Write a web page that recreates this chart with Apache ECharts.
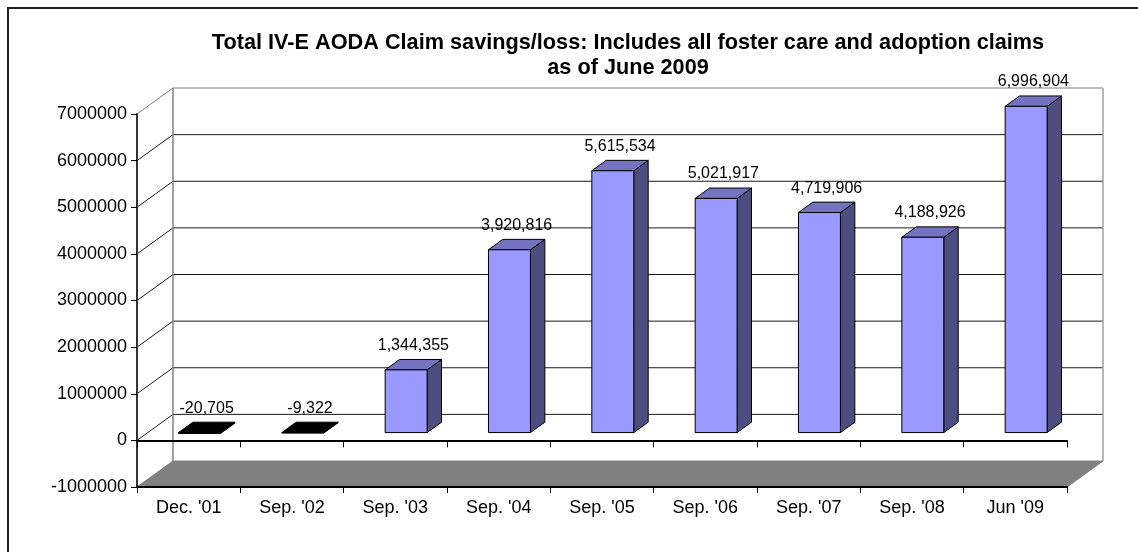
<!DOCTYPE html>
<html><head><meta charset="utf-8">
<script src="https://cdn.jsdelivr.net/npm/echarts@6/dist/echarts.min.js"></script>
<style>html,body{margin:0;padding:0;background:#fff}#c{width:1138px;height:552px}</style>
</head><body><div id="c"></div>
<script>
// ---- data ----
const categories = ["Dec. '01", "Sep. '02", "Sep. '03", "Sep. '04", "Sep. '05", "Sep. '06", "Sep. '07", "Sep. '08", "Jun '09"];
const claimValues = [-20705, -9322, 1344355, 3920816, 5615534, 5021917, 4719906, 4188926, 6996904];
const yTickValues = [-1000000, 0, 1000000, 2000000, 3000000, 4000000, 5000000, 6000000, 7000000];
const titleLines = ['Total IV-E AODA Claim savings/loss: Includes all foster care and adoption claims', 'as of June 2009'];

// ---- style ----
const FONT = "'Liberation Sans', Arial, Helvetica, sans-serif";
const DX = 36, DY = -26;               // 3D depth offset of the back wall
const BAR_FRONT = 0.3, BAR_DEPTH = 0.4, BAR_WIDTH = 0.406;
const LABEL_GAP = 14;
const yMin = yTickValues[0], yMax = yTickValues[yTickValues.length - 1];

function fmt(v) {
  const s = Math.abs(v).toString().replace(/\B(?=(\d{3})+(?!\d))/g, ',');
  return (v < 0 ? '-' : '') + s;
}

function renderWall(params, api) {
  const v = api.value(1);
  const cs = params.coordSys;
  const x0 = cs.x, x1 = cs.x + cs.width;
  const yBottom = cs.y + cs.height;
  const y = api.coord([0, v])[1];
  const children = [];
  if (v === yMin) {
    children.push({ type: 'polygon', shape: { points: [[x0, y], [x1, y], [x1 + DX, y + DY], [x0 + DX, y + DY]] },
      style: { fill: '#808080', stroke: '#808080', lineWidth: 1 } });
  } else {
    const col = v === yMax ? '#808080' : '#1a1a1a';
    children.push({ type: 'polyline', shape: { points: [[x0, y], [x0 + DX, y + DY], [x1 + DX, y + DY]] },
      style: { stroke: col, lineWidth: 1, fill: null } });
  }
  if (v === yMax) {
    children.push({ type: 'line', shape: { x1: x0 + DX, y1: y + DY, x2: x0 + DX, y2: yBottom + DY }, style: { stroke: '#808080', lineWidth: 1.5 } });
    children.push({ type: 'line', shape: { x1: x1 + DX, y1: y + DY, x2: x1 + DX, y2: yBottom + DY }, style: { stroke: '#a0a0a0', lineWidth: 1.5 } });
  }
  return { type: 'group', children: children };
}

function renderBar(params, api) {
  const i = api.value(0), v = api.value(1);
  const base = api.coord([i, 0]);
  const top = api.coord([i, v]);
  const cw = api.size([1, 0])[0];
  const bw = cw * BAR_WIDTH;
  const ox = DX * BAR_FRONT, oy = DY * BAR_FRONT, dx = DX * BAR_DEPTH, dy = DY * BAR_DEPTH;
  const xl = base[0] - bw / 2 + ox, xr = xl + bw;
  const yT = Math.min(base[1], top[1]) + oy, yB = Math.max(base[1], top[1]) + oy;
  const neg = v < 0;
  const cFront = neg ? '#000' : '#9999FF', cTop = neg ? '#000' : '#7373BF', cSide = neg ? '#000' : '#4D4D80';
  const st = { stroke: '#000', lineWidth: 1, lineJoin: 'round' };
  return { type: 'group', children: [
    { type: 'polygon', shape: { points: [[xr, yT], [xr + dx, yT + dy], [xr + dx, yB + dy], [xr, yB]] }, style: Object.assign({ fill: cSide }, st) },
    { type: 'polygon', shape: { points: [[xl, yT], [xr, yT], [xr + dx, yT + dy], [xl + dx, yT + dy]] }, style: Object.assign({ fill: cTop }, st) },
    { type: 'rect', shape: { x: xl, y: yT, width: bw, height: Math.max(yB - yT, 0.5) }, style: Object.assign({ fill: cFront }, st) },
    { type: 'text', style: { text: fmt(v), x: (xl + xr + dx) / 2, y: yT + dy - LABEL_GAP, align: 'center', verticalAlign: 'middle',
        fontSize: 16, fontFamily: FONT, fill: '#000' } }
  ] };
}

const chart = echarts.init(document.getElementById('c'), null, { renderer: 'canvas' });
chart.setOption({
  animation: false,
  backgroundColor: '#fff',
  title: { text: titleLines.join('\n'), left: 628, top: 31, textAlign: 'center', padding: 0,
    textStyle: { fontSize: 21.7, fontWeight: 'bold', fontFamily: FONT, lineHeight: 25, color: '#000' } },
  graphic: [{ type: 'rect', shape: { x: 8, y: 8, width: 1200, height: 600 }, style: { fill: 'transparent', stroke: '#222', lineWidth: 2 }, z: -10 }],
  grid: { left: 137, right: 71, top: 114, bottom: 65, containLabel: false },
  xAxis: [
    { type: 'category', data: categories, position: 'bottom', boundaryGap: true, z: 10,
      axisLine: { onZero: false, lineStyle: { color: '#000', width: 2 } },
      axisTick: { show: true, length: 6, lineStyle: { color: '#000', width: 1 } },
      axisLabel: { fontSize: 18, margin: 12, color: '#000', fontFamily: FONT },
      splitLine: { show: false } },
    { type: 'category', data: categories, position: 'bottom', boundaryGap: true, z: 10,
      axisLine: { onZero: true, lineStyle: { color: '#000', width: 2 } },
      axisTick: { show: true, length: 7, lineStyle: { color: '#000', width: 1 } },
      axisLabel: { show: false }, splitLine: { show: false } }
  ],
  yAxis: { type: 'value', min: yMin, max: yMax, interval: 1000000, z: 10,
    axisLine: { show: true, onZero: false, lineStyle: { color: '#333', width: 2 } },
    axisTick: { show: true, length: 6, lineStyle: { color: '#000', width: 1 } },
    axisLabel: { fontSize: 18, margin: 10, color: '#000', fontFamily: FONT, formatter: function (v) { return String(v); } },
    splitLine: { show: false } },
  series: [
    { type: 'custom', name: 'wall', xAxisIndex: 0, yAxisIndex: 0, z: 1, silent: true,
      renderItem: renderWall, data: yTickValues.map(function (v) { return [0, v]; }) },
    { type: 'custom', name: 'claims', xAxisIndex: 0, yAxisIndex: 0, z: 3, clip: false,
      renderItem: renderBar, data: claimValues.map(function (v, i) { return [i, v]; }) }
  ]
});
</script>
</body></html>
